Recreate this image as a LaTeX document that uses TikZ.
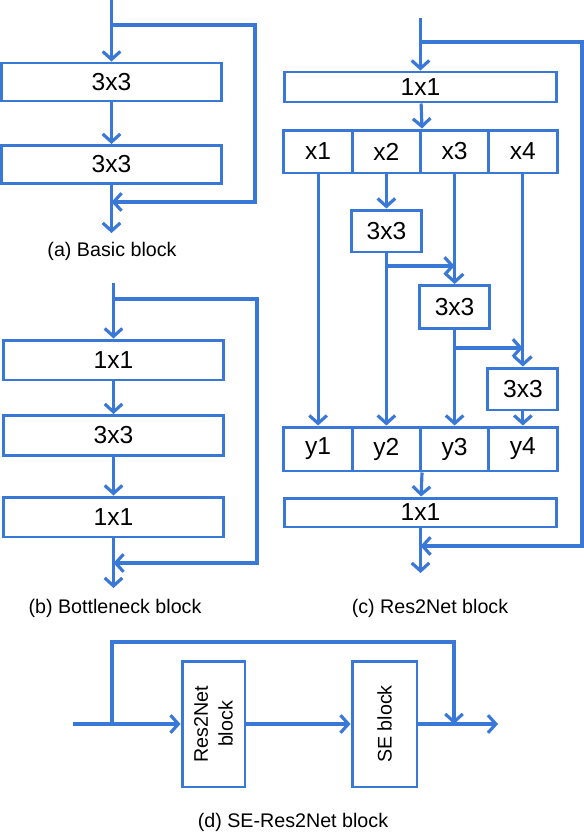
\documentclass[tikz,border=0pt]{standalone}
\usepackage{fontspec}
\setmainfont{Liberation Sans}
\usetikzlibrary{arrows.meta}
\definecolor{resblue}{RGB}{58,120,216}
\tikzset{
  blk/.style={draw=resblue, line width=1.7pt, inner sep=0pt, font=\fontsize{14}{16}\selectfont},
  lbl/.style={font=\fontsize{11.2}{14}\selectfont},
  wire/.style={draw=resblue, line width=1.8pt},
}

\begin{document}
\begin{tikzpicture}[x=0.02cm, y=-0.02cm, >={Straight Barb[length=4.5pt,width=10pt]}]
  \useasboundingbox (0,0) rectangle (584,832);
  \node[blk, minimum width=4.42cm, minimum height=0.76cm] (a1) at (111.5,82) {3x3};
  \node[blk, minimum width=4.42cm, minimum height=0.76cm] (a2) at (111.5,164.5) {3x3};
  \coordinate (ain) at (111.5,0);
  \coordinate (askip) at (111.5,25);
  \coordinate (aback) at (111.5,202);
  \coordinate (aout) at (111.5,233);
  \draw[wire, ->] (ain) -- (a1);
  \draw[wire, ->] (a1) -- (a2);
  \draw[wire, ->] (a2) -- (aout);
  \draw[wire, ->] (askip) -- ++(143.5,0) |- (aback);
  \node[lbl] (acap) at (112,251) {(a) Basic block};

  \node[blk, minimum width=4.42cm, minimum height=0.8cm] (b1) at (113.5,360) {1x1};
  \node[blk, minimum width=4.42cm, minimum height=0.8cm] (b2) at (113.5,435.5) {3x3};
  \node[blk, minimum width=4.42cm, minimum height=0.8cm] (b3) at (113.5,517) {1x1};
  \coordinate (bin) at (113.5,283);
  \coordinate (bskip) at (113.5,299);
  \coordinate (bback) at (113.5,563);
  \coordinate (bout) at (113.5,588);
  \draw[wire, ->] (bin) -- (b1);
  \draw[wire, ->] (b1) -- (b2);
  \draw[wire, ->] (b2) -- (b3);
  \draw[wire, ->] (b3) -- (bout);
  \draw[wire, ->] (bskip) -- ++(143.5,0) |- (bback);
  \node[lbl] (bcap) at (115,608) {(b) Bottleneck block};

  \node[blk, minimum width=5.46cm, minimum height=0.6cm] (c0) at (420.5,87) {1x1};
  \node[blk, minimum width=1.365cm, minimum height=0.86cm] (x1) at (318.1,151.5) {x1};
  \node[blk, minimum width=1.365cm, minimum height=0.86cm] (x2) at (386.4,151.5) {x2};
  \node[blk, minimum width=1.365cm, minimum height=0.86cm] (x3) at (454.6,151.5) {x3};
  \node[blk, minimum width=1.365cm, minimum height=0.86cm] (x4) at (522.9,151.5) {x4};
  \node[blk, minimum width=1.4cm, minimum height=0.84cm] (s2) at (386.4,231) {3x3};
  \node[blk, minimum width=1.4cm, minimum height=0.86cm] (s3) at (454.6,307) {3x3};
  \node[blk, minimum width=1.4cm, minimum height=0.84cm] (s4) at (522.9,389) {3x3};
  \node[blk, minimum width=1.365cm, minimum height=0.88cm] (y1) at (318.1,449) {y1};
  \node[blk, minimum width=1.365cm, minimum height=0.88cm] (y2) at (386.4,449) {y2};
  \node[blk, minimum width=1.365cm, minimum height=0.88cm] (y3) at (454.6,449) {y3};
  \node[blk, minimum width=1.365cm, minimum height=0.88cm] (y4) at (522.9,449) {y4};
  \node[blk, minimum width=5.46cm, minimum height=0.58cm] (c5) at (420.5,512.5) {1x1};
  \coordinate (cin) at (420.5,18);
  \coordinate (cskip) at (420.5,42);
  \coordinate (cback) at (420.5,546);
  \coordinate (cout) at (420.5,573);
  \coordinate (t2) at (386.4,266);
  \coordinate (t3) at (454.6,266);
  \coordinate (u3) at (454.6,348);
  \coordinate (u4) at (522.9,348);
  \draw[wire, ->] (cin) -- (c0);
  \draw[wire, ->] (c0) -- (x2.north east);
  \draw[wire, ->] (x1) -- (y1);
  \draw[wire, ->] (x2) -- (s2);
  \draw[wire, ->] (s2) -- (y2);
  \draw[wire, ->] (x3) -- (s3);
  \draw[wire, ->] (s3) -- (y3);
  \draw[wire, ->] (x4) -- (s4);
  \draw[wire, ->] (s4) -- (y4);
  \draw[wire, ->] (t2) -- (t3);
  \draw[wire, ->] (u3) -- (u4);
  \draw[wire, ->] (y2.south east) -- (c5);
  \draw[wire, ->] (c5) -- (cout);
  \draw[wire, ->] (cskip) -- ++(161.5,0) |- (cback);
  \node[lbl] (ccap) at (430,608) {(c) Res2Net block};

  \node[blk, minimum width=1.26cm, minimum height=2.52cm] (r) at (213.5,724) {};
  \node[blk, minimum width=1.3cm, minimum height=2.52cm] (se) at (384.5,724) {};
  \node[lbl, rotate=90, align=center] (rtxt) at (r) {Res2Net\\block};
  \node[lbl, rotate=90] (setxt) at (se) {SE block};
  \coordinate (din) at (73,724);
  \coordinate (dskip) at (112,724);
  \coordinate (djoin) at (454,724);
  \coordinate (dout) at (498,724);
  \draw[wire, ->] (din) -- (r);
  \draw[wire, ->] (r) -- (se);
  \draw[wire, ->] (se) -- (dout);
  \draw[wire, ->] (dskip) -- ++(0,-82) -| (djoin);
  \node[lbl] (dcap) at (293,822) {(d) SE-Res2Net block};
\end{tikzpicture}
\end{document}
